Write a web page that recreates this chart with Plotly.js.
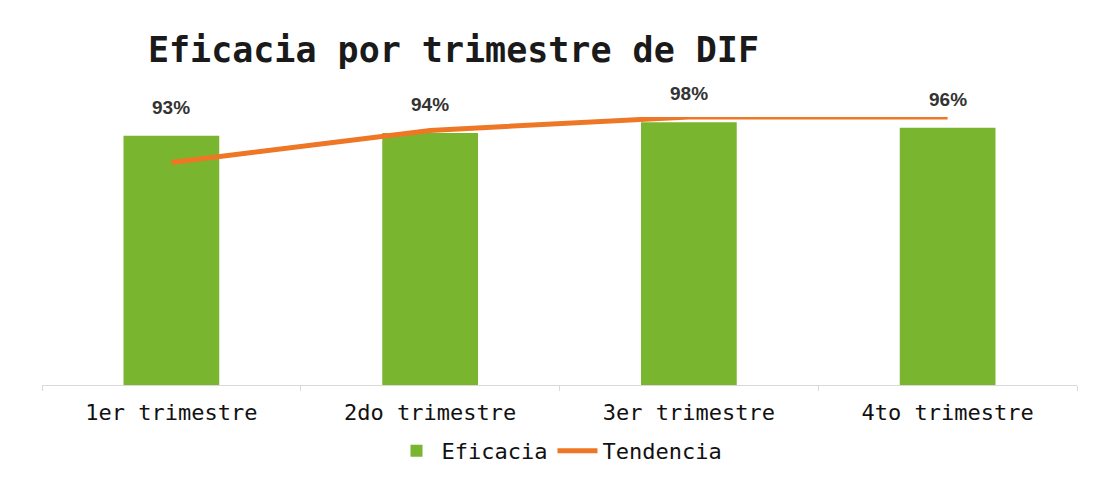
<!DOCTYPE html>
<html>
<head>
<meta charset="utf-8">
<script src="https://cdn.plot.ly/plotly-3.0.1.min.js"></script>
<style>
  html, body { margin: 0; padding: 0; background: #fff; }
  #chart { width: 1104px; height: 489px; }
</style>
</head>
<body>
<div id="chart"></div>
<script>
const quarters = ['1er trimestre', '2do trimestre', '3er trimestre', '4to trimestre'];
const eficacia = [0.93, 0.94, 0.98, 0.96];
const eficaciaLabels = ['93%', '94%', '98%', '96%'];
const tendencia = [0.83, 0.95, 1.00, 1.00];

const monoFont = 'DejaVu Sans Mono, Liberation Mono, monospace';

const traceBars = {
  x: quarters,
  y: eficacia,
  type: 'bar',
  name: 'Eficacia',
  marker: { color: '#7AB530' },
  hoverinfo: 'skip'
};

const traceTrend = {
  x: quarters,
  y: tendencia,
  type: 'scatter',
  mode: 'lines',
  name: 'Tendencia',
  line: { color: '#EE7726', width: 5 },
  cliponaxis: false,
  hoverinfo: 'skip'
};

// value labels above the bars
const labels = quarters.map((q, i) => ({
  x: q,
  y: eficacia[i],
  text: eficaciaLabels[i],
  showarrow: false,
  yanchor: 'bottom',
  yshift: 16,
  font: { family: 'Liberation Sans, Arial, sans-serif', size: 19, color: '#333', weight: 600 }
}));

const layout = {
  width: 1104,
  height: 489,
  paper_bgcolor: '#fff',
  plot_bgcolor: '#fff',
  margin: { l: 42, r: 27, t: 117, b: 104 },
  bargap: 0.63,
  showlegend: true,
  title: {
    text: 'Eficacia por trimestre de DIF',
    x: 0.134,
    xanchor: 'left',
    xref: 'container',
    y: 0.898,
    yanchor: 'middle',
    yref: 'container',
    font: { family: monoFont, size: 35, color: '#1a1a1a', weight: 'bold' }
  },
  xaxis: {
    showline: true,
    linecolor: '#d9d9d9',
    linewidth: 1,
    ticks: 'outside',
    tickson: 'boundaries',
    ticklen: 5,
    tickcolor: '#d9d9d9',
    showgrid: false,
    ticklabelstandoff: 8,
    tickfont: { family: monoFont, size: 22, color: '#111' }
  },
  yaxis: {
    range: [0, 1.0],
    visible: false,
    showgrid: false,
    zeroline: false
  },
  legend: {
    orientation: 'h',
    x: 0.5,
    xanchor: 'center',
    y: -0.246,
    yanchor: 'middle',
    font: { family: monoFont, size: 22, color: '#111' },
    itemwidth: 40
  },
  annotations: labels
};

Plotly.newPlot('chart', [traceBars, traceTrend], layout, { displayModeBar: false, staticPlot: true });
</script>
</body>
</html>
